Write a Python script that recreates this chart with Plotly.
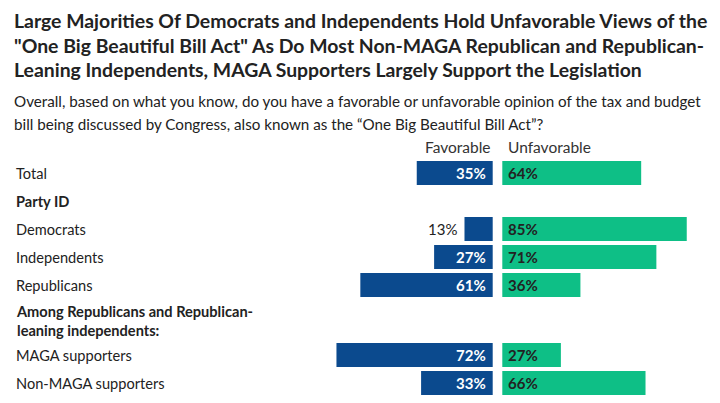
import plotly.graph_objects as go

title_lines = [
    "Large Majorities Of Democrats and Independents Hold Unfavorable Views of the",
    "\"One Big Beautiful Bill Act\" As Do Most Non-MAGA Republican and Republican-",
    "Leaning Independents, MAGA Supporters Largely Support the Legislation",
]
subtitle_lines = [
    "Overall, based on what you know, do you have a favorable or unfavorable opinion of the tax and budget",
    "bill being discussed by Congress, also known as the \u201cOne Big Beautiful Bill Act\u201d?",
]
series_names = ["Favorable", "Unfavorable"]
categories = ["Total", "Democrats", "Independents", "Republicans", "MAGA supporters", "Non-MAGA supporters"]
favorable = [35, 13, 27, 61, 72, 33]
unfavorable = [64, 85, 71, 36, 27, 66]
headers = ["Party ID", "Among Republicans and Republican-<br>leaning independents:"]

# layout (row index positions)
cat_rows = [0, 2, 3, 4, 6.5, 7.5]
header_rows = [1, 5.3]
OFF = 8  # default page body margin
PITCH = 28.0
ROW0 = 173.0 - OFF
W, H = 720 - OFF, 403 - OFF
PXPCT = 2.17
ZERO_PX = 492.7 - OFF
GAP = 9.6 / PXPCT
LEFT = 14 - OFF

BLUE = "#0B4A8E"
GREEN = "#0EBF86"
TXT = "#222222"
FONT = "Lato"
LBL = 14.6

fig = go.Figure()
fig.add_trace(go.Bar(
    y=cat_rows, x=[-v for v in favorable], base=0, orientation="h",
    marker=dict(color=BLUE, line=dict(width=0)), width=24 / PITCH,
    name=series_names[0], hoverinfo="skip",
))
fig.add_trace(go.Bar(
    y=cat_rows, x=unfavorable, base=GAP, orientation="h",
    marker=dict(color=GREEN, line=dict(width=0)), width=24 / PITCH,
    name=series_names[1], hoverinfo="skip",
))

ann = []
for r, c, f, u in zip(cat_rows, categories, favorable, unfavorable):
    ann.append(dict(x=0, xref="paper", y=r, yref="y", text=c, xanchor="left",
                    xshift=LEFT, showarrow=False, font=dict(size=LBL, color=TXT, family=FONT)))
    if f >= 20:
        ann.append(dict(x=0, y=r, text=f"<b>{f}%</b>", xanchor="right", xshift=-5, showarrow=False,
                        font=dict(size=15, color="white", family=FONT)))
    else:
        ann.append(dict(x=-f, y=r, text=f"{f}%", xanchor="right", xshift=-5, showarrow=False,
                        font=dict(size=15, color=TXT, family=FONT)))
    ann.append(dict(x=GAP, y=r, text=f"<b>{u}%</b>", xanchor="left", xshift=4, showarrow=False,
                    font=dict(size=15, color=TXT, family=FONT)))
for r, h in zip(header_rows, headers):
    ann.append(dict(x=0, xref="paper", y=r, yref="y", text=f"<b>{h}</b>", xanchor="left", align="left",
                    xshift=LEFT, showarrow=False, font=dict(size=LBL, color=TXT, family=FONT)))
ann.append(dict(x=0, y=-0.93, text=series_names[0], xanchor="right", xshift=0, showarrow=False,
                font=dict(size=15.5, color="#333333", family=FONT)))
ann.append(dict(x=GAP, y=-0.93, text=series_names[1], xanchor="left", xshift=4, showarrow=False,
                font=dict(size=15.5, color="#333333", family=FONT)))
for i, t in enumerate(title_lines):
    ann.append(dict(x=0, xref="paper", y=1 - (21 - OFF + 24.5 * i) / H, yref="paper", text=f"<b>{t}</b>",
                    xanchor="left", yanchor="middle", xshift=12 - OFF, showarrow=False,
                    font=dict(size=19.4, color=TXT, family=FONT)))
for i, t in enumerate(subtitle_lines):
    ann.append(dict(x=0, xref="paper", y=1 - (101 - OFF + 23 * i) / H, yref="paper", text=t,
                    xanchor="left", yanchor="middle", xshift=12 - OFF, showarrow=False,
                    font=dict(size=15.2, color=TXT, family=FONT)))

fig.update_layout(
    width=W, height=H, margin=dict(l=0, r=0, t=0, b=0),
    paper_bgcolor="white", plot_bgcolor="white", showlegend=False, barmode="overlay",
    xaxis=dict(range=[-ZERO_PX / PXPCT, (W - ZERO_PX) / PXPCT], visible=False, fixedrange=True),
    yaxis=dict(range=[(H - ROW0) / PITCH, -ROW0 / PITCH], visible=False, fixedrange=True),
    annotations=ann,
)
fig.write_html("out.html")
